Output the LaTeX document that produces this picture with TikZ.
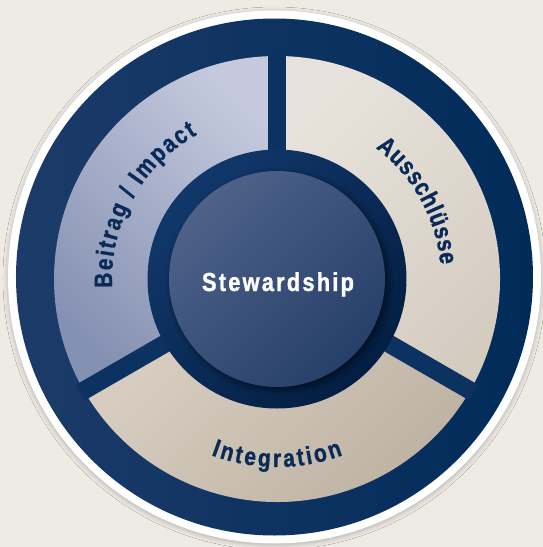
\documentclass[tikz,border=0pt]{standalone}
\usepackage{fontspec}
\setmainfont{Liberation Sans}
\newfontfamily\labelfont[FakeStretch=0.84,FakeBold=1.2]{Liberation Sans}
\newfontfamily\stewfont[FakeStretch=0.84,FakeBold=1.2,LetterSpace=8.5]{Liberation Sans}
\usetikzlibrary{decorations.text,shadows.blur}

\definecolor{bg}{HTML}{EEEBE5}
\definecolor{navy}{HTML}{0C3262}
\definecolor{navyL}{HTML}{1C3B69}
\definecolor{navyR}{HTML}{002B59}
\definecolor{ink}{HTML}{0A2B57}
\definecolor{lavL}{HTML}{C4C9DD}
\definecolor{lavD}{HTML}{8591B3}
\definecolor{sandL}{HTML}{E7E3DC}
\definecolor{sandD}{HTML}{D4CBBF}
\definecolor{tanL}{HTML}{D6CDC0}
\definecolor{tanD}{HTML}{BCB0A0}
\definecolor{ringL}{HTML}{11376A}
\definecolor{ringD}{HTML}{031E42}
\definecolor{diskL}{HTML}{4E6189}
\definecolor{diskD}{HTML}{26406A}

\tikzset{every picture/.style={line width=1pt}}
\tikzset{
  sectA/.style={top color=lavL, bottom color=lavD, shading angle=-45},
  sectB/.style={top color=sandL, bottom color=sandD, shading angle=45},
  sectC/.style={top color=tanL, bottom color=tanD, shading angle=45},
  bar/.style={draw=navy, line width=18pt},
  disc/.style={circle, inner sep=0pt, minimum size=#1},
  arclabel/.style={decorate, decoration={text along path, text align={fit to path},
      text={|\labelfont\bfseries\fontsize{25}{25}\selectfont\color{ink}|#1}}},
}
\def\rs{223}  % outer radius of the sectors
\def\rd{129.5}% dark ring
\def\rc{108}  % inner disc

\begin{document}
\begin{tikzpicture}[x=1pt, y=1pt]
  \useasboundingbox (-277,-268) rectangle (266,279);
  \fill[bg] (-277,-268) rectangle (266,279);
  % rim and outer ring
  \node[disc=533pt, fill=white, blur shadow={shadow xshift=0pt, shadow yshift=-1.5pt,
      shadow blur radius=5pt, shadow opacity=25}] (rim) at (-2.5,2) {};
  \node[disc=517pt, left color=navyL, right color=navyR] (ring) at (-2.5,2) {};
  % three sectors
  \foreach \a/\b/\s in {90/210/sectA, -30/90/sectB, 210/330/sectC} {
      \path[\s] (\a:\rs) arc (\a:\b:\rs) -- (\b:\rd-6) arc (\b:\a:\rd-6) -- cycle;
  };
  % separating bars
  \foreach \a in {90,210,330}
      \draw[bar] (\a:\rd-6) -- (\a:\rs+4);
  % centre
  \node[disc=2*\rd pt, top color=ringL, bottom color=ringD, shading angle=45] (dark) at (0,0) {};
  \node[disc=2*\rc pt, top color=diskL, bottom color=diskD, shading angle=45,
      blur shadow={shadow xshift=3pt, shadow yshift=-3pt, shadow blur radius=6pt,
      shadow opacity=55}] (stew) at (0,0) {};
  \node[anchor=base, text=white, font=\stewfont\bfseries\fontsize{26}{26}\selectfont]
      (stewlabel) at (1,-12) {Stewardship};
  % curved labels
  \path[arclabel={Beitrag / Impact}] (183:165) arc (183:119:165);
  \path[arclabel={Ausschlüsse}] (53:164) arc (53:5:164);
  \path[arclabel={Integration}] (249.5:188) arc (249.5:290.5:188);
\end{tikzpicture}
\end{document}
